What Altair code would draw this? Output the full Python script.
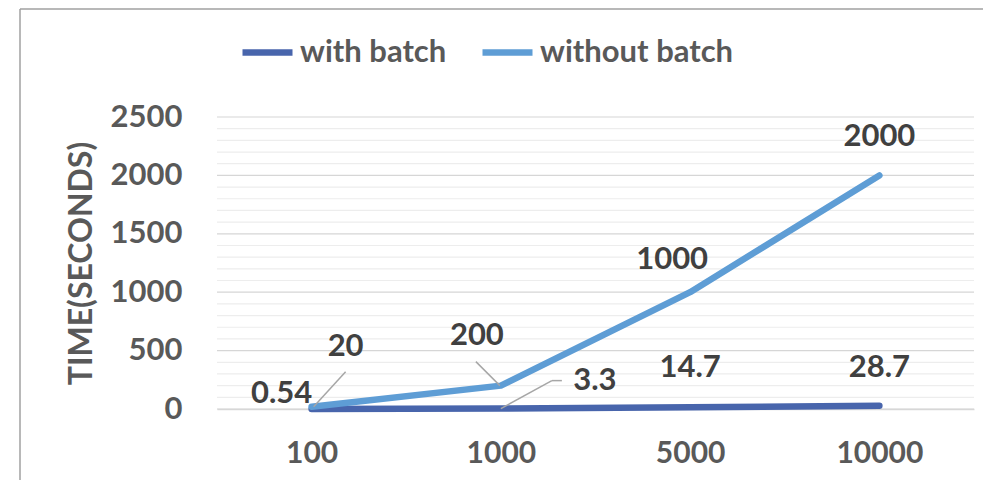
import altair as alt
import pandas as pd

categories = ["100", "1000", "5000", "10000"]
with_batch = [0.54, 3.3, 14.7, 28.7]
without_batch = [20, 200, 1000, 2000]
series_names = ["with batch", "without batch"]
series_colors = ["#4865AC", "#5E9DD5"]
y_title = "TIME(SECONDS)"
y_max = 2500
grid_step = 100

FONT = "Lato"
W, H = 757, 292

df = pd.DataFrame({
    "n": categories * 2,
    "time": with_batch + without_batch,
    "series": [series_names[0]] * len(categories) + [series_names[1]] * len(categories),
})
df["label"] = [("%g" % v) for v in df["time"]]

grid_df = pd.DataFrame({"g": list(range(0, y_max + 1, grid_step))})
grid_df["major"] = grid_df["g"] % 500 == 0

xs = alt.Scale(domain=categories, type="point", padding=0.5)
ys = alt.Scale(domain=[0, y_max], nice=False)

grid = alt.Chart(grid_df).mark_rule(strokeWidth=1.2).encode(
    y=alt.Y("g:Q", scale=ys),
    color=alt.Color("major:N", scale=alt.Scale(domain=[False, True], range=["#EDEDED", "#D6D6D6"]), legend=None),
)

lines = alt.Chart(df).mark_line(strokeWidth=6.5, strokeCap="round", strokeJoin="round").encode(
    x=alt.X("n:N", scale=xs, sort=categories,
            axis=alt.Axis(title=None, labelAngle=0, ticks=False, domain=True, domainColor="#D9D9D9",
                          domainWidth=1.5, grid=False, labelFont=FONT, labelFontSize=30,
                          labelFontWeight="bold", labelColor="#595959", labelPadding=29)),
    y=alt.Y("time:Q", scale=ys,
            axis=alt.Axis(title=y_title, values=list(range(0, y_max + 1, 500)), format="d", grid=False,
                          ticks=False, domain=False, labelFont=FONT, labelFontSize=31,
                          labelFontWeight="bold", labelColor="#595959", labelPadding=35,
                          titleFont=FONT, titleFontSize=32, titleFontWeight="bold",
                          titleColor="#595959", titlePadding=12)),
    color=alt.Color("series:N", scale=alt.Scale(domain=series_names, range=series_colors),
                    legend=alt.Legend(title=None, orient="none", legendX=22, legendY=-93,
                                      direction="horizontal", symbolType="stroke",
                                      symbolSize=2500, symbolStrokeWidth=6.5,
                                      labelFont=FONT, labelFontSize=31, labelFontWeight="bold",
                                      labelColor="#595959", labelOffset=4, columnPadding=22,
                                      labelLimit=0, gridAlign="none", padding=0)),
    detail="series:N",
)

# label offsets (pixels) for each point, in df order
label_dx = [-30, 94, 0, 0, 34, -24, -18, 0]
label_dy = [-15, -28, -39, -38, -60, -50, -32, -38]

layers = [grid, lines]
for i in range(len(df)):
    row = df.iloc[[i]]
    layers.append(
        alt.Chart(row).mark_text(font=FONT, fontSize=31, fontWeight="bold", color="#404040",
                                 dx=label_dx[i], dy=label_dy[i], baseline="middle", align="center").encode(
            x=alt.X("n:N", scale=xs, sort=categories), y=alt.Y("time:Q", scale=ys), text="label:N")
    )

# leader lines: (row index, start dx, start dy, end dx, end dy)
leaders = [
    (4, 2, 0, 34, -35),
    (5, -1, 0, -25, -24),
    (1, 0, 0, 51, -28),
    (1, 51, -28, 61, -28),
]
for idx, sx, sy, ex, ey in leaders:
    row = df.iloc[[idx]]
    layers.append(
        alt.Chart(row).mark_rule(color="#A6A6A6", strokeWidth=1.5, xOffset=sx, yOffset=sy,
                                 x2Offset=ex, y2Offset=ey).encode(
            x=alt.X("n:N", scale=xs, sort=categories), y=alt.Y("time:Q", scale=ys),
            x2=alt.X2("n"), y2=alt.Y2("time"))
    )

# chart border (left and top)
border_left = alt.Chart(pd.DataFrame({"a": [0]})).mark_rule(color="#A0A0A0", strokeWidth=1.5).encode(
    x=alt.value(-197), y=alt.value(-108), y2=alt.value(H + 80))
border_top = alt.Chart(pd.DataFrame({"a": [0]})).mark_rule(color="#A0A0A0", strokeWidth=1.5).encode(
    x=alt.value(-197), x2=alt.value(W + 20), y=alt.value(-108))
layers += [border_left, border_top]

chart = alt.layer(*layers).resolve_scale(color="independent").properties(
    width=W, height=H,
    autosize=alt.AutoSizeParams(type="none"),
    padding={"left": 209, "top": 109, "right": 9, "bottom": 71},
    background="white",
).configure_view(stroke=None)

chart.save("out.html", embed_options={"renderer": "svg", "actions": False})
